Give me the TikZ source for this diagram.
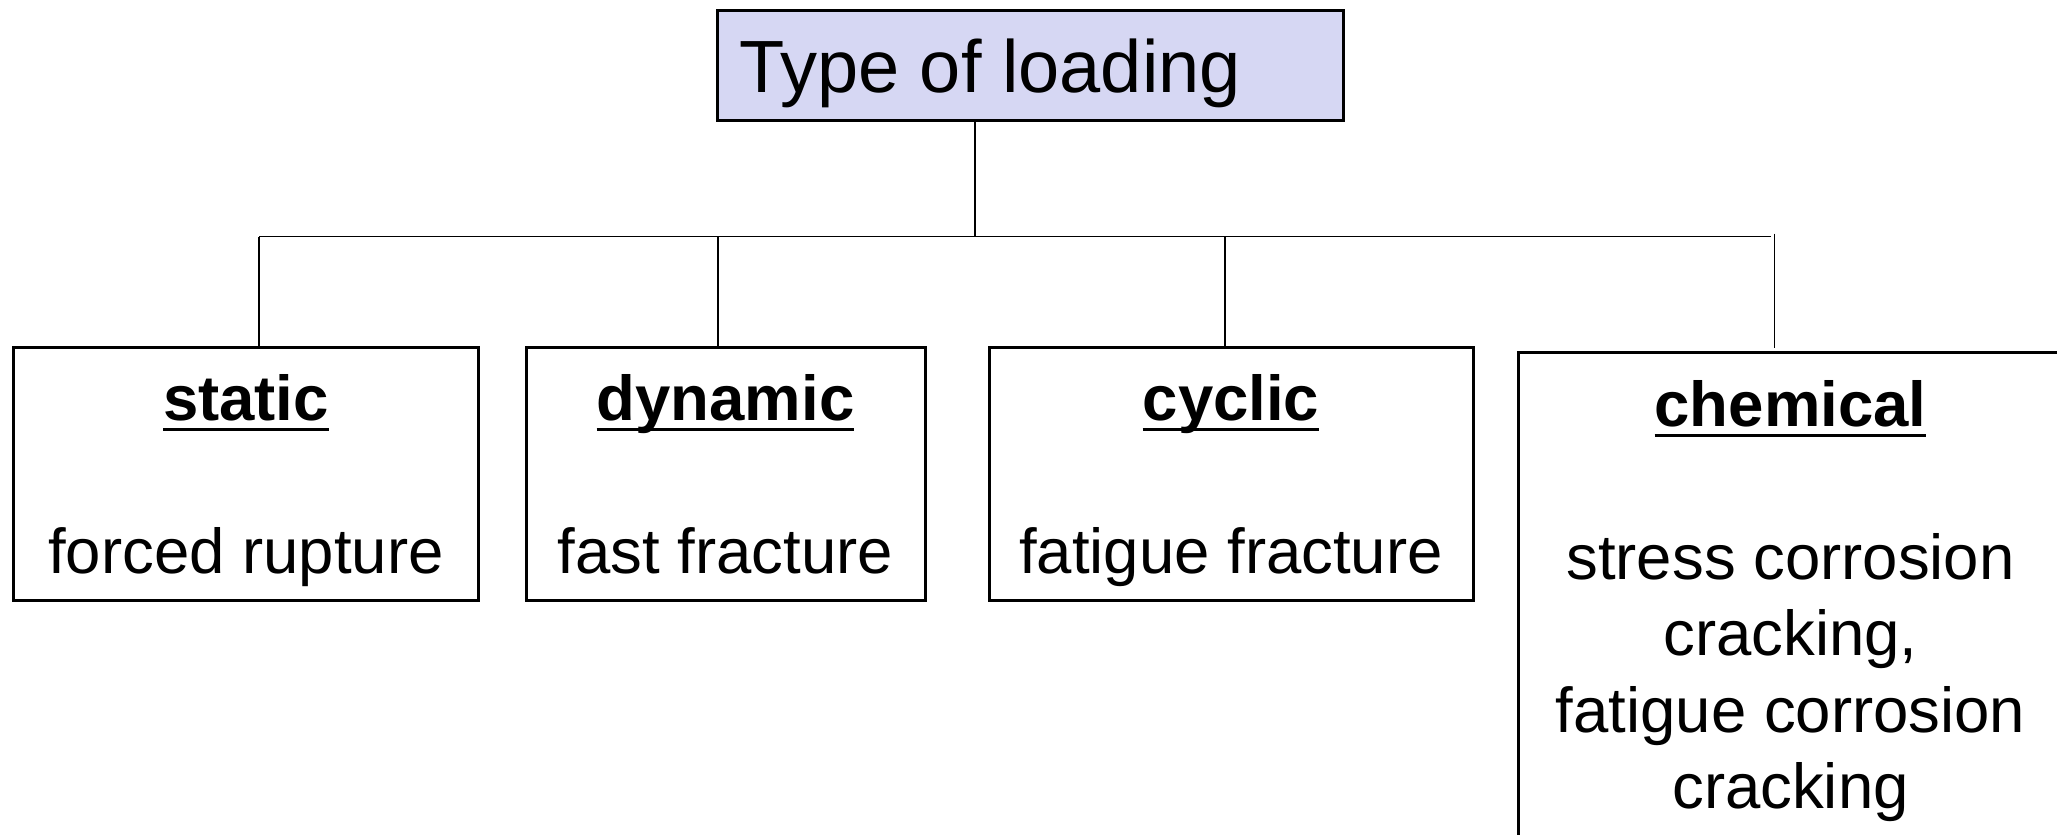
\documentclass[tikz,border=0pt]{standalone}
\usepackage{fontspec}
\setmainfont{Liberation Sans}
\definecolor{titlefill}{RGB}{214,215,243}
\newcommand{\ulbold}[1]{\setbox0=\hbox{\bfseries #1}\rlap{\rule[-5.25pt]{\wd0}{1.5pt}}\box0}
\begin{document}
\begin{tikzpicture}[x=0.5pt,y=-0.5pt,
  box/.style={draw=black, line width=1.5pt, rectangle, inner sep=0pt, outer sep=0pt, anchor=north west},
  txt/.style={anchor=base, inner sep=0pt, outer sep=0pt, font=\fontsize{31.75pt}{38pt}\selectfont},
  conn/.style={draw=black, line width=0.7pt}]
\useasboundingbox (0,0) rectangle (2057,835);
\clip (0,0) rectangle (2057,835);
% title
\node[box, fill=titlefill, minimum width=313pt, minimum height=55pt] (top) at (717,10.5) {};
\node[anchor=base west, inner sep=0pt, font=\fontsize{37pt}{44pt}\selectfont] (toptxt) at (738.6,92.7) {Type of loading};
% boxes
\node[box, minimum width=232.6pt, minimum height=126.15pt] (static) at (13.4,347.7) {};
\node[box, minimum width=199.5pt, minimum height=126.15pt] (dynamic) at (526,347.7) {};
\node[box, minimum width=241.8pt, minimum height=126.15pt] (cyclic) at (989.4,347.7) {};
\node[box, minimum width=272.5pt, minimum height=300pt] (chemical) at (1518,352.6) {};
% texts
\node[txt] (st1) at (246,420) {\ulbold{static}};
\node[txt] (st2) at (246,573.3) {forced rupture};
\node[txt] (dy1) at (725.5,420) {\ulbold{dynamic}};
\node[txt] (dy2) at (725.5,573.3) {fast fracture};
\node[txt] (cy1) at (1231,420) {\ulbold{cyclic}};
\node[txt] (cy2) at (1231,573.3) {fatigue fracture};
\node[txt] (ch1) at (1790.5,426) {\ulbold{chemical}};
\node[txt] (ch2) at (1790.5,579) {stress corrosion};
\node[txt] (ch3) at (1790.5,655.5) {cracking,};
\node[txt] (ch4) at (1790.5,732) {fatigue corrosion};
\node[txt] (ch5) at (1790.5,808.5) {cracking};
% connectors
\coordinate (bus) at (975,236.6);
\coordinate (busL) at (259,236.6);
\coordinate (busR) at (1771,236.6);
\coordinate (jA) at (259,236.6);
\coordinate (jB) at (718,236.6);
\coordinate (jC) at (1225,236.6);
\coordinate (jD) at (1774.4,233.7);
\coordinate (jDend) at (1774.4,347.5);
\draw[conn] (top.south -| bus) -- (bus);
\draw[conn] (busL) -- (busR);
\draw[conn] (jA) -- (jA |- static.north);
\draw[conn] (jB) -- (jB |- dynamic.north);
\draw[conn] (jC) -- (jC |- cyclic.north);
\draw[conn] (jD) -- (jDend);
\end{tikzpicture}
\end{document}
